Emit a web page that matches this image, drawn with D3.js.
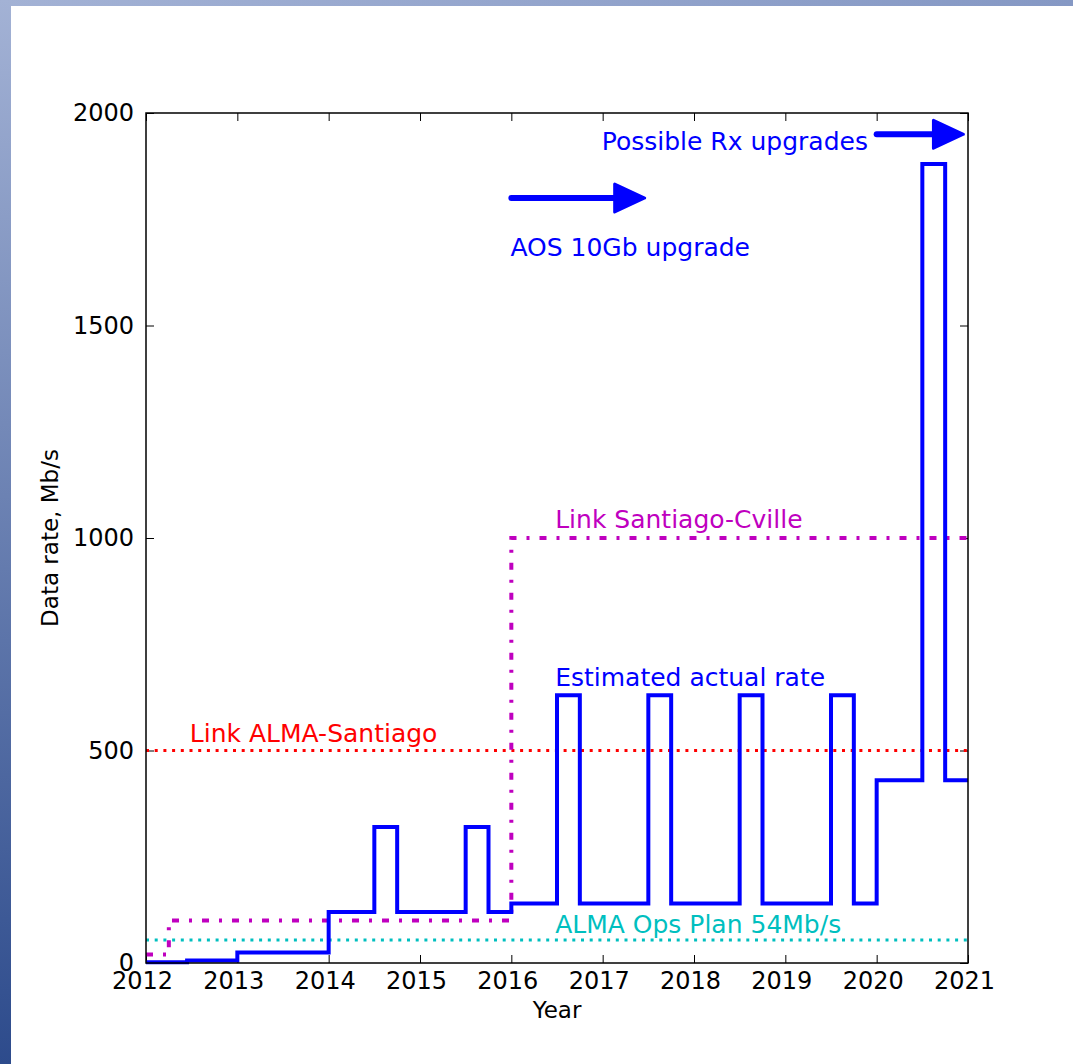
<!DOCTYPE html>
<html>
<head>
<meta charset="utf-8">
<script src="https://cdn.jsdelivr.net/npm/d3@7"></script>
<style>
  body { margin: 0; background: #fff; }
  svg { display: block; font-family: "DejaVu Sans", sans-serif; }
</style>
</head>
<body>
<svg id="chart" width="1073" height="1064"></svg>
<script>
// estimated actual rate (step function, value holds until next break)
var rateYears = [2012, 2012.45, 2013, 2014, 2014.5, 2014.75, 2015.5, 2015.75, 2016,
  2016.5, 2016.75, 2017.5, 2017.75, 2018.5, 2018.75, 2019.5, 2019.75, 2020,
  2020.5, 2020.75, 2021];
var rateValues = [2, 6, 25, 120, 320, 120, 320, 120, 140,
  630, 140, 630, 140, 630, 140, 630, 140, 430,
  1880, 430, 430];

// link Santiago-Cville capacity
var cvilleYears = [2012, 2012.25, 2016, 2021];
var cvilleValues = [20, 100, 1000, 1000];

// flat reference levels
var almaSantiago = 500;
var opsPlan = 54;

var xTicks = [2012, 2013, 2014, 2015, 2016, 2017, 2018, 2019, 2020, 2021];
var yTicks = [0, 500, 1000, 1500, 2000];

// annotations: [text, year, rate, colour]
var labels = [
  ["Link ALMA-Santiago", 2012.48, 520, "#ff0000"],
  ["Link Santiago-Cville", 2016.48, 1023, "#bf00bf"],
  ["Estimated actual rate", 2016.48, 652, "#0000ff"],
  ["ALMA Ops Plan 54Mb/s", 2016.48, 70, "#00bfbf"],
  ["AOS 10Gb upgrade", 2015.99, 1663, "#0000ff"],
  ["Possible Rx upgrades", 2016.99, 1913, "#0000ff"]
];
// arrows: [fromYear, toYear, rate]
var arrows = [
  [2016.0, 2017.46, 1800],
  [2020.0, 2020.95, 1950]
];

var svg = d3.select("#chart");

// slide decoration
var defs = svg.append("defs");
var gl = defs.append("linearGradient").attr("id", "leftBand")
  .attr("x1", 0).attr("y1", 0).attr("x2", 0).attr("y2", 1);
gl.append("stop").attr("offset", "0%").attr("stop-color", "#a3b2d5");
gl.append("stop").attr("offset", "100%").attr("stop-color", "#2d4b8c");
var gt = defs.append("linearGradient").attr("id", "topBand")
  .attr("x1", 0).attr("y1", 0).attr("x2", 1).attr("y2", 0);
gt.append("stop").attr("offset", "0%").attr("stop-color", "#a3b2d5");
gt.append("stop").attr("offset", "100%").attr("stop-color", "#8598c4");
svg.append("rect").attr("x", 0).attr("y", 0).attr("width", 1073).attr("height", 6)
  .attr("fill", "url(#topBand)");
svg.append("rect").attr("x", 0).attr("y", 0).attr("width", 11).attr("height", 1064)
  .attr("fill", "url(#leftBand)");

var plotL = 146, plotR = 968, plotT = 113, plotB = 963;
var x = d3.scaleLinear().domain([2012, 2021]).range([plotL, plotR]);
var y = d3.scaleLinear().domain([0, 2000]).range([plotB, plotT]);

var g = svg.append("g");

// axes with inward ticks
var axB = g.append("g").attr("transform", "translate(0," + plotB + ")")
  .call(d3.axisBottom(x).tickValues(xTicks).tickFormat(d3.format("d"))
    .tickSizeInner(-8).tickSizeOuter(0).tickPadding(9));
axB.selectAll(".tick text").attr("dx", -4);
g.append("g").attr("transform", "translate(0," + plotT + ")")
  .call(d3.axisTop(x).tickValues(xTicks).tickFormat("")
    .tickSizeInner(-8).tickSizeOuter(0));
g.append("g").attr("transform", "translate(" + plotL + ",0)")
  .call(d3.axisLeft(y).tickValues(yTicks).tickFormat(d3.format("d"))
    .tickSizeInner(-8).tickSizeOuter(0).tickPadding(12));
g.append("g").attr("transform", "translate(" + plotR + ",0)")
  .call(d3.axisRight(y).tickValues(yTicks).tickFormat("")
    .tickSizeInner(-8).tickSizeOuter(0));
g.selectAll(".domain").remove();
g.selectAll(".tick line").attr("stroke", "#000").attr("stroke-width", 1);
g.selectAll(".tick text").attr("font-size", 24).attr("fill", "#000")
  .attr("font-family", "DejaVu Sans");

// data lines
var line = d3.line()
  .x(function(d) { return x(d[0]); })
  .y(function(d) { return y(d[1]); })
  .curve(d3.curveStepAfter);

g.append("path")
  .datum([[2012, opsPlan], [2021, opsPlan]])
  .attr("d", line)
  .attr("fill", "none").attr("stroke", "#00bfbf").attr("stroke-width", 3)
  .attr("stroke-dasharray", "3,5.7");

g.append("path")
  .datum([[2012, almaSantiago], [2021, almaSantiago]])
  .attr("d", line)
  .attr("fill", "none").attr("stroke", "#ff0000").attr("stroke-width", 3)
  .attr("stroke-dasharray", "3,5.7");

g.append("path")
  .datum(cvilleYears.map(function(d, i) { return [d, cvilleValues[i]]; }))
  .attr("d", line)
  .attr("fill", "none").attr("stroke", "#bf00bf").attr("stroke-width", 4)
  .attr("stroke-dasharray", "7,10,3,10");

g.append("path")
  .datum(rateYears.map(function(d, i) { return [d, rateValues[i]]; }))
  .attr("d", line)
  .attr("fill", "none").attr("stroke", "#0000ff").attr("stroke-width", 4)
  .attr("stroke-linejoin", "miter");

// arrows
arrows.forEach(function(a) {
  var x0 = x(a[0]), x1 = x(a[1]), yy = y(a[2]);
  var headLen = 30, headHalf = 14;
  g.append("line")
    .attr("x1", x0).attr("x2", x1 - headLen + 2)
    .attr("y1", yy).attr("y2", yy)
    .attr("stroke", "#0000ff").attr("stroke-width", 6)
    .attr("stroke-linecap", "round");
  g.append("path")
    .attr("d", "M" + (x1 - headLen) + "," + (yy - headHalf) +
      " L" + x1 + "," + yy +
      " L" + (x1 - headLen) + "," + (yy + headHalf) + " Z")
    .attr("fill", "#0000ff").attr("stroke", "#0000ff").attr("stroke-width", 3)
    .attr("stroke-linejoin", "round");
});

// text annotations
g.selectAll("text.note")
  .data(labels)
  .enter()
  .append("text")
  .attr("class", "note")
  .attr("x", function(d) { return x(d[1]); })
  .attr("y", function(d) { return y(d[2]); })
  .attr("fill", function(d) { return d[3]; })
  .attr("font-size", 25)
  .text(function(d) { return d[0]; });

// frame
g.append("rect")
  .attr("x", plotL).attr("y", plotT)
  .attr("width", plotR - plotL).attr("height", plotB - plotT)
  .attr("fill", "none").attr("stroke", "#000").attr("stroke-width", 1.5);

// axis titles
svg.append("text")
  .attr("x", (plotL + plotR) / 2).attr("y", 1018)
  .attr("text-anchor", "middle").attr("font-size", 23)
  .text("Year");
svg.append("text")
  .attr("transform", "translate(58," + ((plotT + plotB) / 2) + ") rotate(-90)")
  .attr("text-anchor", "middle").attr("font-size", 23)
  .text("Data rate, Mb/s");
</script>
</body>
</html>
